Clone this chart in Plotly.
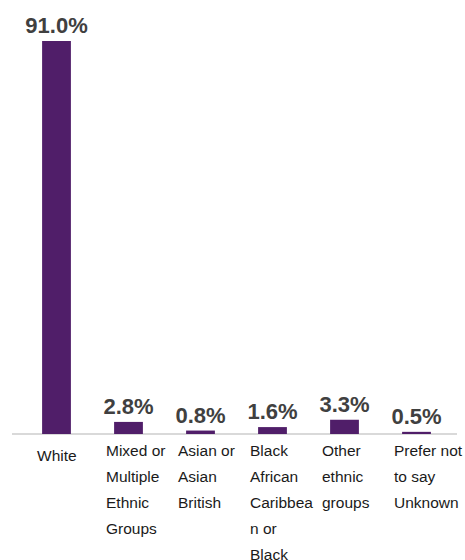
import plotly.graph_objects as go

categories = ["White", "Mixed or Multiple Ethnic Groups", "Asian or Asian British",
              "Black African Caribbean or Black", "Other ethnic groups", "Prefer not to say Unknown"]
values = [91.0, 2.8, 0.8, 1.6, 3.3, 0.5]
label_lines = [
    ["White"],
    ["Mixed or", "Multiple", "Ethnic", "Groups"],
    ["Asian or", "Asian", "British"],
    ["Black", "African", "Caribbea", "n or", "Black"],
    ["Other", "ethnic", "groups"],
    ["Prefer not", "to say", "Unknown"],
]
value_labels = [f"{v:.1f}%" for v in values]

x = list(range(len(categories)))

fig = go.Figure(go.Bar(
    x=x, y=values, width=0.4,
    marker=dict(color="#501E69", line=dict(width=0)),
    text=value_labels, textposition="outside", constraintext="none",
    textfont=dict(family="Liberation Sans, Arial, sans-serif", size=22, color="#404040", weight="bold"),
    cliponaxis=False, hoverinfo="skip",
))

label_font = dict(family="Liberation Sans, Arial, sans-serif", size=15.5, color="#1a1a1a")
annotations = []
for i, lines in enumerate(label_lines):
    for j, line in enumerate(lines):
        if len(lines) == 1:
            annotations.append(dict(x=i, xref="x", y=0, yref="y", text=line, showarrow=False,
                                    xanchor="center", yanchor="middle", yshift=-21, font=label_font))
        else:
            annotations.append(dict(x=i - 0.34, xref="x", y=0, yref="y", text=line, showarrow=False,
                                    xanchor="left", yanchor="middle", yshift=-(16 + 26 * j), font=label_font))

fig.update_layout(
    width=465, height=560,
    margin=dict(l=12, r=8, t=10, b=126),
    paper_bgcolor="white", plot_bgcolor="white",
    showlegend=False,
    xaxis=dict(range=[-0.618, 5.5625], showticklabels=False, showgrid=False, zeroline=False,
               showline=False, ticks=""),
    yaxis=dict(range=[0, 98.2], showticklabels=False, showgrid=False, ticks="", showline=False,
               zeroline=True, zerolinecolor="#d9d9d9", zerolinewidth=2),
    annotations=annotations,
)

fig.write_html("out.html", config={"displayModeBar": False},
               post_script="document.body.style.margin='0';document.body.style.overflow='hidden';")
